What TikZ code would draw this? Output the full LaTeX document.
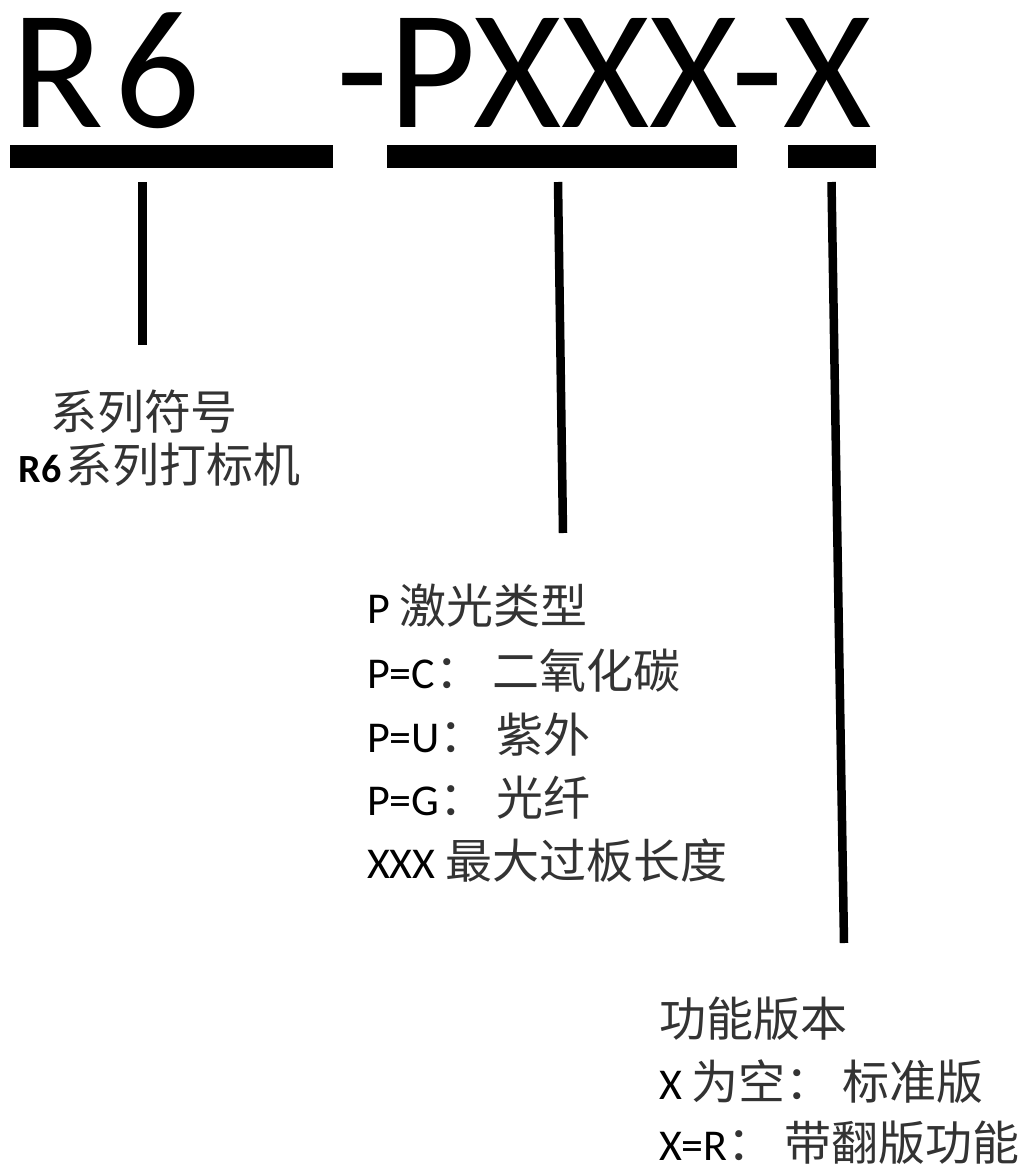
\documentclass[tikz,border=0pt]{standalone}
\usepackage{fontspec}
\setmainfont{Carlito}
\newfontfamily\cjk{Noto Sans CJK SC}
\newcommand\zhtxt[1]{{\cjk\mdseries\fontsize{47}{50}\selectfont\color{black!80}#1}}
\begin{document}
\begin{tikzpicture}[x=1pt,y=-1pt,
  big/.style={font=\fontsize{170}{170}\selectfont, inner sep=0pt, outer sep=0pt, anchor=base west},
  lat/.style={font=\fontsize{44}{50}\selectfont, inner sep=0pt, outer sep=0pt, anchor=base west},
  bar/.style={fill=black, draw=none, inner sep=0pt, outer sep=0pt},
  lead/.style={line width=8.5pt, draw=black}]
\useasboundingbox[fill=white] (0,0) rectangle (1033,1171);

% code
\node[big] (code1) at (12,127) {R\kern10pt 6};
\node[big] (code2) at (336,127) {-PXXX-X};

% underline bars
\node[bar, minimum width=323pt, minimum height=23pt] (b1) at (171.5,156.5) {};
\node[bar, minimum width=350pt, minimum height=23pt] (b2) at (562,156.5) {};
\node[bar, minimum width=88pt, minimum height=23pt] (b3) at (832,156.5) {};

% leaders
\coordinate (l1t) at (142.5,182);
\coordinate (l1b) at (142.5,345);
\coordinate (l2t) at (558,182);
\coordinate (l2b) at (563,533);
\coordinate (l3t) at (831.5,182);
\coordinate (l3b) at (844,943);
\draw[lead] (l1t) -- (l1b);
\draw[lead] (l2t) -- (l2b);
\draw[lead] (l3t) -- (l3b);

% block 1
\node[lat] (s1) at (50,429) {\zhtxt{系列符号}};
\node[lat, font=\fontsize{40}{46}\selectfont] (s2) at (19,482) {\textbf{R6}\hspace{4pt}\zhtxt{系列打标机}};

% block 2
\node[lat] (p1) at (367,623) {P \zhtxt{激光类型}};
\node[lat] (p2) at (367,688) {P=C\zhtxt{：} \zhtxt{二氧化碳}};
\node[lat] (p3) at (367,752) {P=U\zhtxt{：} \zhtxt{紫外}};
\node[lat] (p4) at (367,815) {P=G\zhtxt{：} \zhtxt{光纤}};
\node[lat] (p5) at (367,878) {XXX \zhtxt{最大过板长度}};

% block 3
\node[lat] (f1) at (659,1036) {\zhtxt{功能版本}};
\node[lat] (f2) at (659,1099) {X \zhtxt{为空：} \zhtxt{标准版}};
\node[lat] (f3) at (659,1160) {X=R\zhtxt{：} \zhtxt{带翻版功能}};
\end{tikzpicture}
\end{document}
